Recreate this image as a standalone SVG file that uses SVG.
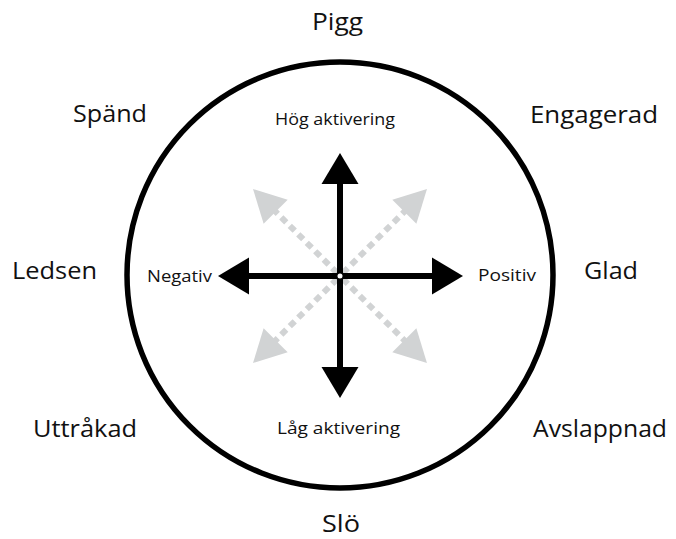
<svg xmlns="http://www.w3.org/2000/svg" width="676" height="539" viewBox="0 0 676 539">
<style>
.outer{font-family:"Open Sans","Liberation Sans",sans-serif;font-size:23px;fill:#111}
.inner{font-family:"Open Sans","Liberation Sans",sans-serif;font-size:16.5px;fill:#111}
.blk{stroke:#000;stroke-width:6;fill:none}
.gry{stroke:#d1d3d4;stroke-width:6;stroke-dasharray:7 5;fill:none}
.gh{fill:#d1d3d4}
</style>
<rect width="676" height="539" fill="#fff"/>
<g id="ring"><circle cx="340" cy="275" r="213" fill="none" stroke="#000" stroke-width="5.5"/></g>
<g id="connectors">
  <g transform="translate(340,276) rotate(-45)"><line class="gry" x1="4" y1="0" x2="92" y2="0"/><polygon class="gh" points="123,0 91,-17 91,17"/></g>
  <g transform="translate(340,276) rotate(-135)"><line class="gry" x1="4" y1="0" x2="92" y2="0"/><polygon class="gh" points="123,0 91,-17 91,17"/></g>
  <g transform="translate(340,276) rotate(45)"><line class="gry" x1="4" y1="0" x2="92" y2="0"/><polygon class="gh" points="123,0 91,-17 91,17"/></g>
  <g transform="translate(340,276) rotate(135)"><line class="gry" x1="4" y1="0" x2="92" y2="0"/><polygon class="gh" points="123,0 91,-17 91,17"/></g>
  <line class="blk" x1="340" y1="182" x2="340" y2="369"/>
  <line class="blk" x1="248" y1="276" x2="433" y2="276"/>
  <polygon points="340,153 321.5,184 358.5,184"/>
  <polygon points="340,398 321.5,367 358.5,367"/>
  <polygon points="218,276 249,257.5 249,294.5"/>
  <polygon points="463,276 432,257.5 432,294.5"/>
  <circle cx="340" cy="276" r="3.5" fill="#fff" stroke="#000" stroke-width="2"/>
</g>
<g id="pigg"><text class="outer" x="337.5" y="30" text-anchor="middle" textLength="51" lengthAdjust="spacingAndGlyphs">Pigg</text></g>
<g id="spand"><text class="outer" x="73" y="122" textLength="74" lengthAdjust="spacingAndGlyphs">Spänd</text></g>
<g id="engagerad"><text class="outer" x="530" y="123" textLength="128" lengthAdjust="spacingAndGlyphs">Engagerad</text></g>
<g id="ledsen"><text class="outer" x="12" y="279" textLength="85" lengthAdjust="spacingAndGlyphs">Ledsen</text></g>
<g id="glad"><text class="outer" x="584" y="279" textLength="54" lengthAdjust="spacingAndGlyphs">Glad</text></g>
<g id="uttrakad"><text class="outer" x="33" y="437" textLength="104" lengthAdjust="spacingAndGlyphs">Uttråkad</text></g>
<g id="avslappnad"><text class="outer" x="533" y="437" textLength="134" lengthAdjust="spacingAndGlyphs">Avslappnad</text></g>
<g id="slo"><text class="outer" x="322" y="532" textLength="38" lengthAdjust="spacingAndGlyphs">Slö</text></g>
<g id="hog"><text class="inner" x="275" y="125" textLength="120" lengthAdjust="spacingAndGlyphs">Hög aktivering</text></g>
<g id="lag"><text class="inner" x="277" y="434" textLength="123" lengthAdjust="spacingAndGlyphs">Låg aktivering</text></g>
<g id="negativ"><text class="inner" x="147" y="282" textLength="65" lengthAdjust="spacingAndGlyphs">Negativ</text></g>
<g id="positiv"><text class="inner" x="478" y="281" textLength="58" lengthAdjust="spacingAndGlyphs">Positiv</text></g>
</svg>
